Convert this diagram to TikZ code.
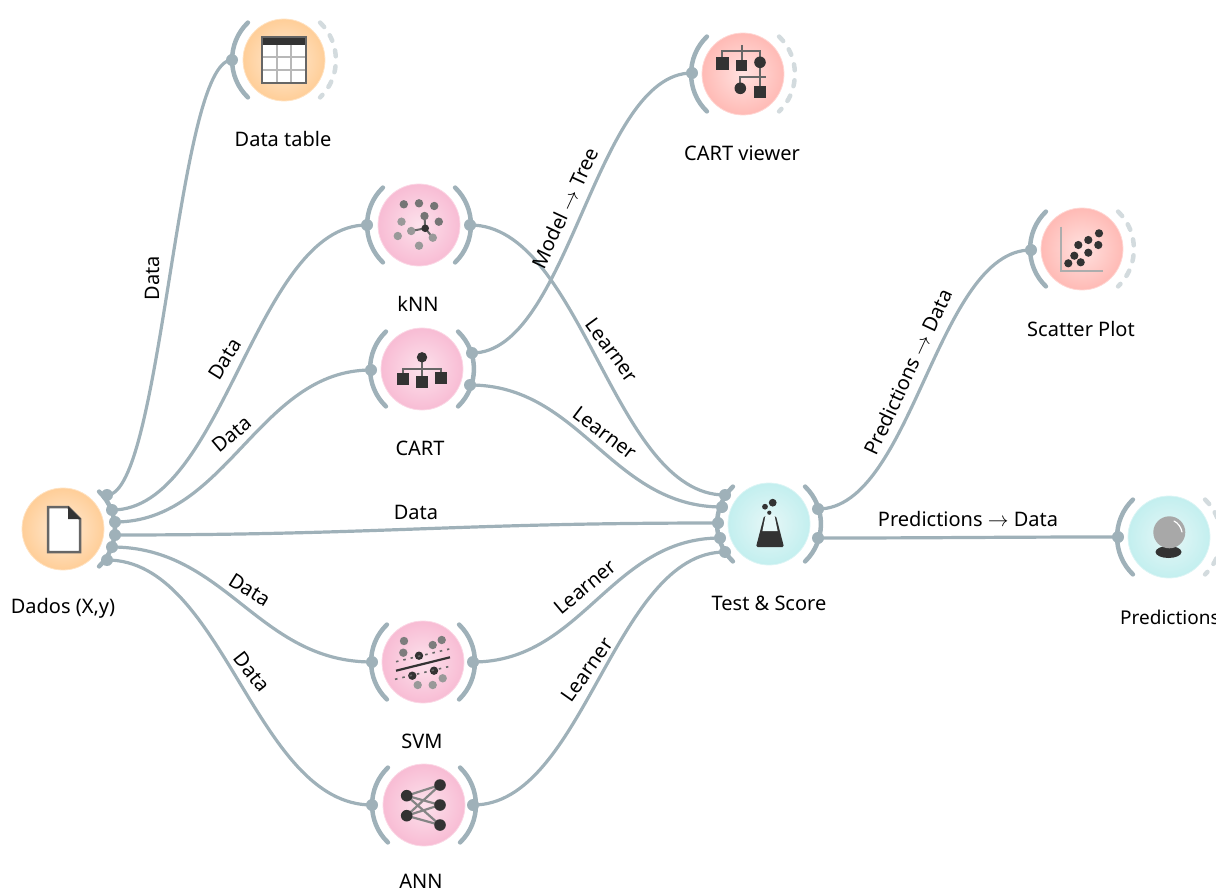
\documentclass[tikz,border=0pt]{standalone}
\usepackage{fontspec}
\setmainfont{Noto Sans}
\definecolor{linkc}{HTML}{9FB1B9}
\definecolor{dashc}{HTML}{D3DBDE}
\definecolor{icond}{HTML}{333333}
\definecolor{iconm}{HTML}{666666}
\definecolor{iconl}{HTML}{999999}
\definecolor{orin}{HTML}{FFEBD6}
\definecolor{orout}{HTML}{FFCE98}
\definecolor{pkin}{HTML}{FCE2EC}
\definecolor{pkout}{HTML}{F8BCD4}
\definecolor{rdin}{HTML}{FFE2E0}
\definecolor{rdout}{HTML}{FFBAB5}
\definecolor{cyin}{HTML}{E6F7F7}
\definecolor{cyout}{HTML}{C3EFEF}
\tikzset{
  x=1pt,y=-1pt,
  widget/.style 2 args={circle,minimum size=82pt,inner sep=0pt,draw=#2!60!white,line width=.8pt,shading=radial,inner color=#1,outer color=#2},
  orangew/.style={widget={orin}{orout}},
  pinkw/.style={widget={pkin}{pkout}},
  redw/.style={widget={rdin}{rdout}},
  cyanw/.style={widget={cyin}{cyout}},
  link/.style={draw=linkc,line width=3.2pt},
  chan/.style={draw=linkc,line width=4.5pt,line cap=round},
  dchan/.style={draw=dashc,line width=4.5pt,line cap=round,dash pattern=on 6pt off 10pt},
  port/.style={circle,fill=linkc,minimum size=12pt,inner sep=0pt},
  lab/.style={font=\fontsize{20}{22}\selectfont,text=black,inner sep=0pt},
  inarc/.pic={\draw[chan] (-36.1,-37.4) .. controls (-57.2,-17) and (-57.2,17) .. (-36.1,37.4);},
  outarc/.pic={\draw[chan] (36.1,-37.4) .. controls (57.2,-17) and (57.2,17) .. (36.1,37.4);},
  doutarc/.pic={\draw[dchan] (36.1,-37.4) .. controls (57.2,-17) and (57.2,17) .. (36.1,37.4);},
  fileicon/.pic={
    \draw[fill=white,draw=iconm,line width=2.5pt,line join=miter] (-15,-22) -- (5,-22) -- (17,-10) -- (17,23) -- (-15,23) -- cycle;
    \fill[icond] (5,-23) -- (18,-10) -- (5,-10) -- cycle;},
  tableicon/.pic={
    \fill[white] (-22,-23) rectangle (22,23);
    \draw[iconl!70!white,line width=1.5pt] (-7,-15) -- (-7,23) (7,-15) -- (7,23) (-22,-3) -- (22,-3) (-22,10) -- (22,10);
    \fill[icond] (-22,-23) rectangle (22,-15);
    \draw[iconm,line width=1.8pt] (-22,-23) rectangle (22,23);},
  knnicon/.pic={
    \draw[iconm,line width=2pt] (6.2,3.3) -- (-7.8,6) (6.2,3.3) -- (5.5,-9) (6.2,3.3) -- (13.8,12.7);
    \foreach \a/\b in {-15.2/-20.7,0/-21.7,15.2/-19,5.5/-9,19.8/-3.3} \fill[iconm!90!white] (\a,\b) circle (4.2pt);
    \foreach \a/\b in {-17.5/-3.3,-21.2/11,-7.8/6,13.8/12.7,0/20.7} \fill[iconl] (\a,\b) circle (4.2pt);
    \fill[icond] (6.2,3.3) circle (3.8pt);},
  carticon/.pic={
    \draw[iconm,line width=2.2pt] (0,-11) -- (0,10) (-19,8) -- (-19,0) -- (19,0) -- (19,8);
    \fill[icond] (0,-11.7) circle (5.2pt);
    \foreach \a/\b in {-19/10,0/12.7,19/9.3} \fill[icond] (\a-5.8,\b-5.8) rectangle (\a+5.8,\b+5.8);},
  svmicon/.pic={
    \foreach \a/\b in {-19/-21,-19.7/-9.3,9.7/-17,18.7/-22} \fill[iconm!85!white] (\a,\b) circle (4.2pt);
    \foreach \a/\b in {-5.3/23,9.7/23,19.7/16.3} \fill[iconl] (\a,\b) circle (4.2pt);
    \foreach \a/\b in {-4/-6.3,-10.7/13.7,11/8.7} \fill[icond] (\a,\b) circle (4.2pt);
    \draw[icond,line width=2.2pt] (-27,8.7) -- (27,-4.7);
    \draw[iconm,line width=1.6pt,dash pattern=on 2.5pt off 5pt] (-27,-.3) -- (26.3,-13) (-28,17.3) -- (25.3,4.7);},
  annicon/.pic={
    \draw[iconm!80!white,line width=2.2pt] (-17.3,-9.3) -- (16,-20) (-17.3,-9.3) -- (16,0) (-17.3,-9.3) -- (16,20) (-17.3,10.7) -- (16,-20) (-17.3,10.7) -- (16,0) (-17.3,10.7) -- (16,20);
    \foreach \a/\b in {-17.3/-9.3,-17.3/10.7,16/-20,16/0,16/20} \fill[icond] (\a,\b) circle (5.8pt);},
  treeicon/.pic={
    \draw[iconm,line width=2.2pt] (-1.3,-29) -- (-1.3,-12) (-20.7,-16) -- (-20.7,-23) -- (17,-23) -- (17,-14) (17,-8) -- (17,14) (-2.7,12) -- (-2.7,3) -- (23,3);
    \fill[icond] (-27.4,-17.4) rectangle (-14,-4);
    \fill[icond] (-7.2,-13.8) rectangle (3.8,-2.8);
    \fill[icond] (17,-11.7) circle (5.8pt);
    \fill[icond] (-2.7,14.3) circle (5.8pt);
    \fill[icond] (11.3,12.3) rectangle (23.3,24.3);},
  flaskicon/.pic={
    \fill[icond,rounded corners=1.5pt] (-5,-8) -- (-13,23) -- (15,23) -- (7,-8) -- cycle;
    \fill[cyin] (-3.4,-9) -- (5.4,-9) -- (8.6,7) -- (-6.6,7) -- cycle;
    \foreach \a/\b/\r in {3.7/-21.3/3.9,-4/-17.3/2.9,.3/-11.3/2.1} \fill[icond] (\a,\b) circle (\r pt);},
  scattericon/.pic={
    \draw[iconl!80!white,line width=2pt] (-21.3,-22.3) -- (-21.3,22) -- (21.3,22);
    \foreach \a/\b in {-13.7/14.3,-7.7/6.7,-3.7/-4,6.3/-9,17/-15.7,-1.3/13.3,6.3/3.7,16.3/-4} \fill[icond] (\a,\b) circle (4.1pt);},
  ballicon/.pic={
    \fill[icond] (-.5,15) ellipse (13pt and 6pt);
    \fill[iconl!85!white] (.3,-4.7) circle (16pt);
    \draw[white,line width=1.2pt,line cap=round] (5,-16) .. controls (9,-14) and (12,-10) .. (13,-5);},
}
\newcommand{\curve}[3]{\draw[link] (#1.center) .. controls +(#3,0) and +(-#3,0) .. (#2.center);}
\newcommand{\thinarrow}{$\rightarrow$}
\begin{document}
\begin{tikzpicture}
\clip (0,0) rectangle (1216,893);
% widgets
\node[orangew] (dados) at (63,529) {};
\node[orangew] (dtable) at (284,60) {};
\node[pinkw] (knn) at (419,225) {};
\node[pinkw] (cart) at (422,369) {};
\node[pinkw] (svm) at (423,662) {};
\node[pinkw] (ann) at (424,805) {};
\node[redw] (viewer) at (743,74) {};
\node[cyanw] (test) at (769,524) {};
\node[redw] (scatter) at (1082,249) {};
\node[cyanw] (pred) at (1169,537) {};
% icons
\pic at (dados) {fileicon};
\pic at (dtable) {tableicon};
\pic at (knn) {knnicon};
\pic at (cart) {carticon};
\pic at (svm) {svmicon};
\pic at (ann) {annicon};
\pic at (viewer) {treeicon};
\pic at (test) {flaskicon};
\pic at (scatter) {scattericon};
\pic at (pred) {ballicon};
% channel arcs
\pic at (dados) {outarc};
\pic at (dtable) {inarc};
\pic at (dtable) {doutarc};
\pic at (knn) {inarc};
\pic at (knn) {outarc};
\pic at (cart) {inarc};
\pic at (cart) {outarc};
\pic at (svm) {inarc};
\pic at (svm) {outarc};
\pic at (ann) {inarc};
\pic at (ann) {outarc};
\pic at (viewer) {inarc};
\pic at (viewer) {doutarc};
\pic at (test) {inarc};
\pic at (test) {outarc};
\pic at (scatter) {inarc};
\pic at (scatter) {doutarc};
\pic at (pred) {inarc};
\pic at (pred) {doutarc};
% ports
\node[port] (d1) at (107,495) {};
\node[port] (d2) at (112,510) {};
\node[port] (d3) at (115,522) {};
\node[port] (d4) at (115,535) {};
\node[port] (d5) at (112,547) {};
\node[port] (d6) at (107,560) {};
\node[port] (tin) at (232,60) {};
\node[port] (ki) at (367,225) {};
\node[port] (ko) at (470,225) {};
\node[port] (ci) at (371,370) {};
\node[port] (co1) at (472,353) {};
\node[port] (co2) at (470,385) {};
\node[port] (si) at (372,662) {};
\node[port] (so) at (473,662) {};
\node[port] (ai) at (372,805) {};
\node[port] (ao) at (473,805) {};
\node[port] (vi) at (692,73) {};
\node[port] (t1) at (725,495) {};
\node[port] (t2) at (722,507) {};
\node[port] (t3) at (718,523) {};
\node[port] (t4) at (720,538) {};
\node[port] (t5) at (725,552) {};
\node[port] (to1) at (818,509) {};
\node[port] (to2) at (818,538) {};
\node[port] (pi) at (1118,537) {};
\node[port] (sci) at (1031,250) {};
% connectors
\curve{d1}{tin}{55}
\curve{d2}{ki}{112}
\curve{d3}{ci}{112}
\curve{d4}{t3}{265}
\curve{d5}{si}{114}
\curve{d6}{ai}{117}
\curve{ko}{t1}{112}
\curve{co2}{t2}{111}
\curve{so}{t4}{109}
\curve{ao}{t5}{111}
\curve{co1}{vi}{97}
\curve{to1}{sci}{94}
\curve{to2}{pi}{132}
% widget captions
\node[lab] (l1) at (63,608) {Dados (X,y)};
\node[lab] (l2) at (283,139) {Data table};
\node[lab] (l3) at (418,304) {kNN};
\node[lab] (l4) at (420,448) {CART};
\node[lab] (l5) at (422,741) {SVM};
\node[lab] (l6) at (421,881) {ANN};
\node[lab] (l7) at (742,153) {CART viewer};
\node[lab] (l8) at (769,603) {Test \& Score};
\node[lab] (l9) at (1081,329) {Scatter Plot};
\node[lab,anchor=west,font=\fontsize{19}{21}\selectfont] (l10) at (1120,617) {Predictions};
% connector labels
\node[lab,rotate=90] (e1) at (152,278) {Data};
\node[lab,rotate=58] (e2) at (225,359) {Data};
\node[lab,rotate=40] (e3) at (232,434) {Data};
\node[lab] (e4) at (416,512) {Data};
\node[lab,rotate=-32] (e5) at (250,590) {Data};
\node[lab,rotate=-52] (e6) at (252,672) {Data};
\node[lab,rotate=65] (e7) at (565,208) {Model \thinarrow{} Tree};
\node[lab,rotate=-54] (e8) at (612,350) {Learner};
\node[lab,rotate=-37] (e9) at (605,433) {Learner};
\node[lab,rotate=40] (e10) at (585,587) {Learner};
\node[lab,rotate=55] (e11) at (587,670) {Learner};
\node[lab,rotate=65] (e12) at (908,372) {Predictions \thinarrow{} Data};
\node[lab] (e13) at (968,519) {Predictions \thinarrow{} Data};
\end{tikzpicture}
\end{document}
